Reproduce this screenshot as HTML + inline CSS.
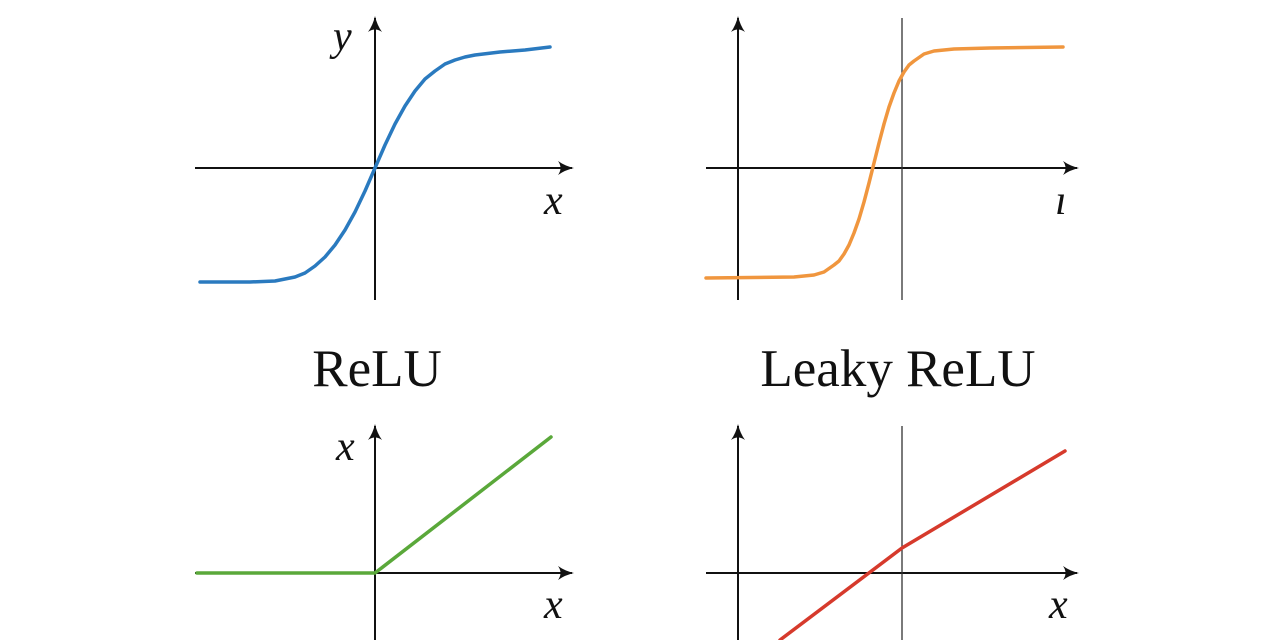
<!DOCTYPE html>
<html><head><meta charset="utf-8"><style>
body{margin:0;background:#fff}
svg{display:block}
text{font-family:"Liberation Serif",serif;fill:#111}
</style></head><body>
<svg width="1280" height="640" viewBox="0 0 1280 640">
<defs>
<marker id="ar" viewBox="0 0 16 14" refX="14" refY="7" markerWidth="16" markerHeight="14" markerUnits="userSpaceOnUse" orient="auto">
<path d="M0,0 Q7,5 16,7 Q7,9 0,14 Q5,7 0,0Z" fill="#111"/>
</marker>
</defs>
<g stroke="#111" stroke-width="2" fill="none">
<line x1="195" y1="168" x2="572" y2="168" marker-end="url(#ar)"/>
<line x1="375" y1="300" x2="375" y2="18" marker-end="url(#ar)"/>
<line x1="706" y1="168" x2="1077" y2="168" marker-end="url(#ar)"/>
<line x1="738" y1="300" x2="738" y2="18" marker-end="url(#ar)"/>
<line x1="195" y1="573" x2="572" y2="573" marker-end="url(#ar)"/>
<line x1="375" y1="640" x2="375" y2="426" marker-end="url(#ar)"/>
<line x1="706" y1="573" x2="1077" y2="573" marker-end="url(#ar)"/>
<line x1="738" y1="640" x2="738" y2="426" marker-end="url(#ar)"/>
</g>
<g stroke="#333" stroke-width="1.3">
<line x1="902" y1="18" x2="902" y2="300"/>
<line x1="902" y1="426" x2="902" y2="640"/>
</g>
<g fill="none" stroke-width="3.5" stroke-linejoin="round" stroke-linecap="round">
<polyline stroke="#2a7abf" points="200,282 225,282 250,282 275,281 285,279 295,277 305,273 315,266 325,257 335,245 345,230 355,212 365,191 375,168 385,145 395,124 405,106 415,91 425,79 435,71 445,64 455,60 465,57 475,55 500,52 525,50 550,47"/>
<polyline stroke="#f0963e" points="706,278 794,277 814,275 824,272 834,265 839,261 844,254 849,245 854,233 859,219 864,202 869,183 874,163 879,143 884,124 889,107 894,93 899,81 904,72 909,65 914,61 924,54 934,51 954,49 990,48 1063,47"/>
<polyline stroke="#5aa83a" points="197,573 375,573 551,437"/>
<polyline stroke="#d63a2c" points="780,640 902,548 1065,451"/>
</g>
<g font-style="italic" font-size="42">
<text x="333" y="50">y</text>
<text x="544" y="214">x</text>
<text x="1055" y="214">ı</text>
<text x="336" y="460">x</text>
<text x="544" y="618">x</text>
<text x="1049" y="618">x</text>
</g>
<g font-size="53" text-anchor="middle">
<text x="377" y="386">ReLU</text>
<text x="898" y="386">Leaky ReLU</text>
</g>
</svg>
</body></html>
